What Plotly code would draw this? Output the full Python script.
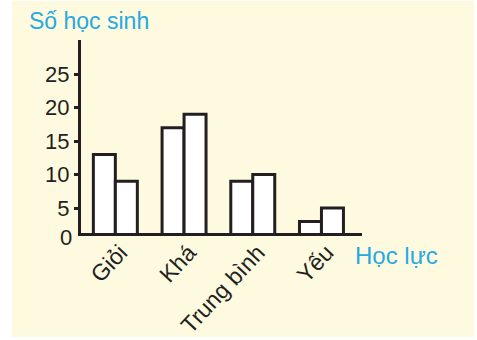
import plotly.graph_objects as go

# data
hoc_luc = ["Giỏi", "Khá", "Trung bình", "Yếu"]
lop_a = [13, 17, 9, 3]
lop_b = [9, 19, 10, 5]
y_ticks = [5, 10, 15, 20, 25]

W, H = 477, 340
# plot area in pixels
L, R, T, B = 81, 362, 40, 233
CREAM = "#FEFAE0"
BLUE = "#27A9E1"
INK = "#231F20"


def px_x(x):
    return (x - L) / (R - L)


def px_y(y):
    return (B - y) / (B - T)


bar_style = dict(color="white", line=dict(color=INK, width=3))

fig = go.Figure()
fig.add_trace(go.Bar(x=hoc_luc, y=lop_a, marker=bar_style, showlegend=False))
fig.add_trace(go.Bar(x=hoc_luc, y=lop_b, marker=bar_style, showlegend=False))

fig.update_layout(
    width=W, height=H,
    margin=dict(l=L, r=W - R, t=T, b=H - B),
    paper_bgcolor="white",
    plot_bgcolor="white",
    barmode="group",
    bargap=0.36,
    bargroupgap=0,
    font=dict(family="Liberation Sans, Arial, sans-serif", color=INK),
    shapes=[
        # cream panel behind the chart
        dict(type="rect", xref="paper", yref="paper", layer="below",
             x0=px_x(12), x1=px_x(474), y0=px_y(337), y1=px_y(1),
             fillcolor=CREAM, line_width=0),
    ],
    annotations=[
        dict(text="Số học sinh", xref="paper", yref="paper",
             x=px_x(27), y=px_y(21), xanchor="left", yanchor="middle",
             showarrow=False, font=dict(size=23, color=BLUE)),
        dict(text="Học lực", xref="paper", yref="paper",
             x=px_x(353), y=px_y(255), xanchor="left", yanchor="middle",
             showarrow=False, font=dict(size=24, color=BLUE)),
        dict(text="0", xref="paper", yref="paper",
             x=px_x(74), y=px_y(237), xanchor="right", yanchor="middle",
             showarrow=False, font=dict(size=22, color=INK)),
    ],
)

fig.update_xaxes(
    range=[-0.5, 3.59], automargin=False,
    showline=True, linecolor=INK, linewidth=3,
    showgrid=False, ticks="",
    tickangle=-47, tickfont=dict(size=23, color=INK),
    ticklabelshift=5, ticklabelstandoff=-6,
    fixedrange=True,
)
fig.update_yaxes(
    range=[1.27, 30.1], automargin=False,
    tickvals=y_ticks,
    showline=True, linecolor=INK, linewidth=3,
    showgrid=False, zeroline=False,
    ticks="outside", ticklen=4, tickwidth=3, tickcolor=INK,
    tickfont=dict(size=22, color=INK),
    fixedrange=True,
)

# the page has a default 8px body margin; drop it so pixels line up
fig.write_html("out.html", config={"displayModeBar": False},
               post_script="document.body.style.margin='0';")
